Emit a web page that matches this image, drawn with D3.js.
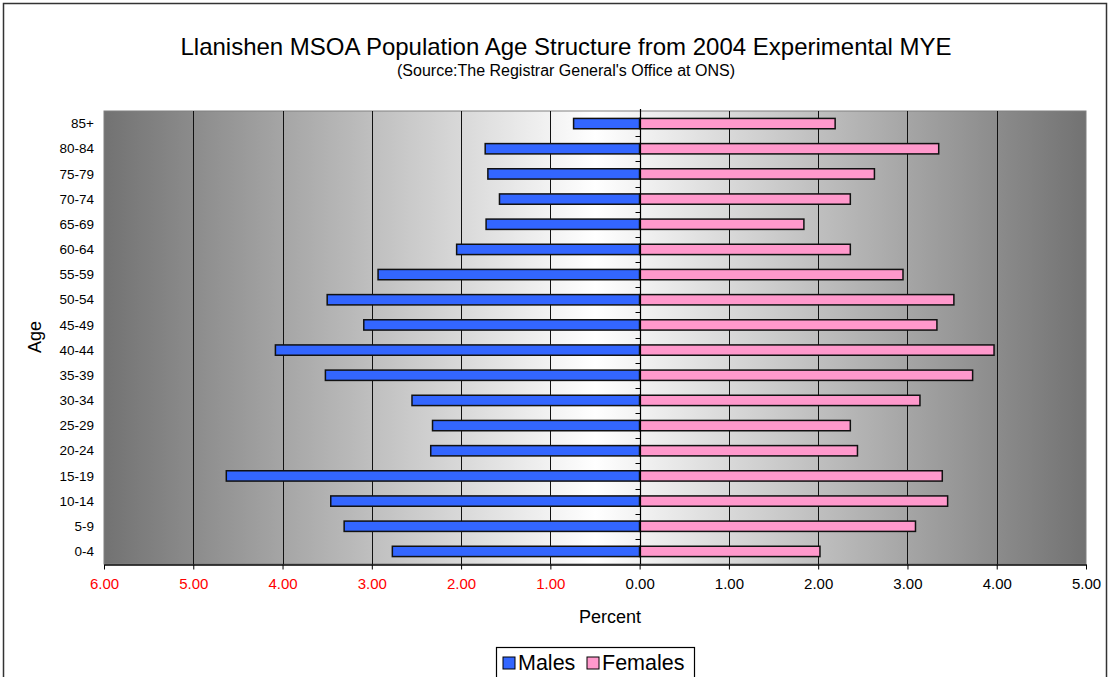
<!DOCTYPE html>
<html>
<head>
<meta charset="utf-8">
<script src="https://cdn.jsdelivr.net/npm/d3@7"></script>
<style>
  body { margin: 0; background: #fff; }
  svg { display: block; font-family: "Liberation Sans", Arial, sans-serif; }
</style>
</head>
<body>
<svg id="chart" width="1110" height="677"></svg>
<script>
// age bands, top to bottom as drawn
var ageGroups = ["85+", "80-84", "75-79", "70-74", "65-69", "60-64", "55-59", "50-54", "45-49",
                 "40-44", "35-39", "30-34", "25-29", "20-24", "15-19", "10-14", "5-9", "0-4"];
// percent of population
var males   = [0.74, 1.73, 1.70, 1.57, 1.72, 2.05, 2.93, 3.50, 3.09,
               4.08, 3.52, 2.55, 2.32, 2.34, 4.63, 3.46, 3.31, 2.77];
var females = [2.19, 3.35, 2.63, 2.36, 1.84, 2.36, 2.95, 3.52, 3.33,
               3.97, 3.73, 3.14, 2.36, 2.44, 3.39, 3.45, 3.09, 2.02];
var xTicks = [-6, -5, -4, -3, -2, -1, 0, 1, 2, 3, 4, 5];

var svg = d3.select("#chart");
var pLeft = 104, pRight = 1086, pTop = 111, pBottom = 564;

// outer chart frame
svg.append("rect")
  .attr("x", 3.5).attr("y", 3.5).attr("width", 1103).attr("height", 690)
  .attr("fill", "#fff").attr("stroke", "#333").attr("stroke-width", 1.5);

var x = d3.scaleLinear().domain([-6, 5]).range([pLeft, pRight]);
var y = d3.scaleBand().domain(ageGroups).range([pTop, pBottom]).paddingInner(0.59).paddingOuter(0.295);
var yb = d3.scaleBand().domain(ageGroups).range([pTop, pBottom]);

// plot area gradient (dark edges, white middle)
var grad = svg.append("defs").append("linearGradient").attr("id", "bg")
  .attr("x1", "0%").attr("x2", "100%").attr("y1", "0%").attr("y2", "0%");
grad.append("stop").attr("offset", "0%").attr("stop-color", "#727272");
grad.append("stop").attr("offset", "50%").attr("stop-color", "#ffffff");
grad.append("stop").attr("offset", "100%").attr("stop-color", "#727272");

svg.append("rect")
  .attr("x", pLeft).attr("y", pTop).attr("width", pRight - pLeft).attr("height", pBottom - pTop)
  .attr("fill", "url(#bg)").attr("stroke", "#808080").attr("stroke-width", 1);

// vertical gridlines
svg.append("g").selectAll("line").data(xTicks.slice(1, -1)).enter().append("line")
  .attr("x1", function(d) { return Math.round(x(d)) + 0.5; })
  .attr("x2", function(d) { return Math.round(x(d)) + 0.5; })
  .attr("y1", pTop).attr("y2", pBottom)
  .attr("stroke", "#111").attr("stroke-width", 1);

// bars
var bars = svg.append("g");
bars.selectAll("rect.m").data(males).enter().append("rect").attr("class", "m")
  .attr("x", function(d) { return x(-d); })
  .attr("width", function(d) { return x(0) - x(-d); })
  .attr("y", function(d, i) { return y(ageGroups[i]); })
  .attr("height", y.bandwidth())
  .attr("fill", "#3366ff").attr("stroke", "#111").attr("stroke-width", 1.5);
bars.selectAll("rect.f").data(females).enter().append("rect").attr("class", "f")
  .attr("x", x(0))
  .attr("width", function(d) { return x(d) - x(0); })
  .attr("y", function(d, i) { return y(ageGroups[i]); })
  .attr("height", y.bandwidth())
  .attr("fill", "#ff99cc").attr("stroke", "#111").attr("stroke-width", 1.5);

// zero axis with category ticks
var x0 = Math.round(x(0)) + 0.5;
svg.append("line").attr("x1", x0).attr("x2", x0).attr("y1", pTop - 2).attr("y2", pBottom)
  .attr("stroke", "#000").attr("stroke-width", 1.2);
svg.append("g").selectAll("line").data(ageGroups.slice(1)).enter().append("line")
  .attr("x1", x0 - 5).attr("x2", x0)
  .attr("y1", function(d) { return Math.round(yb(d)) + 0.5; })
  .attr("y2", function(d) { return Math.round(yb(d)) + 0.5; })
  .attr("stroke", "#000");

// category labels on the left
svg.append("g").selectAll("text").data(ageGroups).enter().append("text")
  .attr("x", 94)
  .attr("y", function(d) { return yb(d) + yb.bandwidth() / 2; })
  .attr("dy", "0.35em").attr("text-anchor", "end")
  .attr("font-size", 13.5).attr("fill", "#000")
  .text(function(d) { return d; });

// bottom axis
var xAxis = svg.append("g").attr("transform", "translate(0," + (pBottom + 0.5) + ")")
  .call(d3.axisBottom(x).tickValues(xTicks).tickSize(5).tickSizeOuter(0)
    .tickFormat(function(d) { return Math.abs(d).toFixed(2); }));
xAxis.select(".domain").attr("stroke", "#000").attr("stroke-width", 1.5);
xAxis.selectAll(".tick line").attr("stroke", "#000");
xAxis.selectAll(".tick text")
  .attr("y", 14).attr("font-size", 15).attr("font-family", "Liberation Sans, Arial, sans-serif")
  .attr("fill", function(d) { return d < 0 ? "#ff0000" : "#000"; });

// titles
svg.append("text").attr("x", 566).attr("y", 55).attr("text-anchor", "middle")
  .attr("font-size", 24).text("Llanishen MSOA Population Age Structure from 2004 Experimental MYE");
svg.append("text").attr("x", 566).attr("y", 76).attr("text-anchor", "middle")
  .attr("font-size", 16).text("(Source:The Registrar General's Office at ONS)");
svg.append("text").attr("x", 610).attr("y", 623).attr("text-anchor", "middle")
  .attr("font-size", 18).text("Percent");
svg.append("text").attr("transform", "translate(41,337) rotate(-90)").attr("text-anchor", "middle")
  .attr("font-size", 18).text("Age");

// legend
var legend = svg.append("g");
legend.append("rect").attr("x", 496.5).attr("y", 647.5).attr("width", 198).attr("height", 40)
  .attr("fill", "#fff").attr("stroke", "#000").attr("stroke-width", 1.2);
var items = [{name: "Males", color: "#3366ff", x: 503}, {name: "Females", color: "#ff99cc", x: 587}];
legend.selectAll("rect.k").data(items).enter().append("rect").attr("class", "k")
  .attr("x", function(d) { return d.x; }).attr("y", 657).attr("width", 12).attr("height", 12)
  .attr("fill", function(d) { return d.color; }).attr("stroke", "#000").attr("stroke-width", 1);
legend.selectAll("text").data(items).enter().append("text")
  .attr("x", function(d) { return d.x + 15; }).attr("y", 670)
  .attr("font-size", 21.5).text(function(d) { return d.name; });
</script>
</body>
</html>
